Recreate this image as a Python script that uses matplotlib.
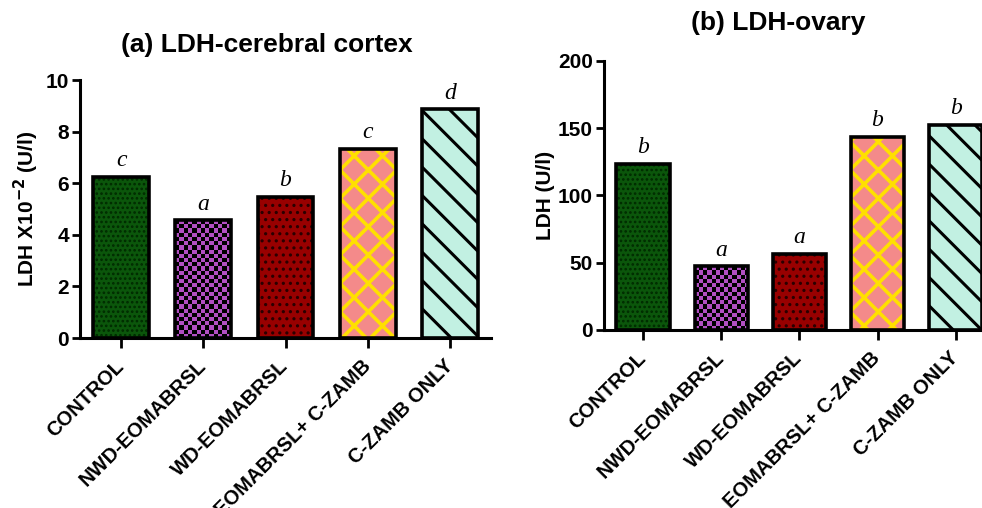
import numpy as np
import matplotlib
matplotlib.use("Agg")
import matplotlib.pyplot as plt

# ===============================
# Datos
# ===============================
groups = ["CONTROL", "NWD-EOMABRSL", "WD-EOMABRSL", "EOMABRSL+ C-ZAMB", "C-ZAMB ONLY"]
cortex = [6.25, 4.57, 5.47, 7.33, 8.87]
cortex_letters = ["c", "a", "b", "c", "d"]
ovary = [123.5, 47.5, 56.5, 143.5, 152.5]
ovary_letters = ["b", "a", "a", "b", "b"]

face_colors = ["#0b560b", "#b24fc2", "#980000", "#f48a8a", "#c2f0e2"]
hatch_colors = ["#002a00", "#000000", "#2a0000", "#ffe000", "#000000"]
hatches = ["...", None, "..", "x", "\\"]
hatch_widths = [1.2, 1.0, 1.3, 2.6, 2.2]

# dpi bajo para que los patrones salgan del tamaño del original
DPI = 85
k = 100 / DPI

plt.rcParams["font.family"] = ["Liberation Sans", "DejaVu Sans"]
plt.rcParams["font.weight"] = "bold"

fig = plt.figure(figsize=(982 / DPI, 508 / DPI), dpi=DPI)
ax1 = fig.add_axes([0.0815, 0.3346, 0.4185, 0.5079])
ax2 = fig.add_axes([0.615, 0.3504, 0.398, 0.5296])


def draw_panel(ax, values, letters, ymax, step, ylabel):
    x = np.arange(len(values))
    ax.set_xlim(-0.5, 4.5)
    ax.set_ylim(0, ymax)
    for i in range(len(values)):
        with plt.rc_context({"hatch.linewidth": hatch_widths[i] * k}):
            base = ax.bar(x[i], values[i], width=0.68, color=face_colors[i],
                          edgecolor=hatch_colors[i], linewidth=0,
                          hatch=hatches[i], zorder=2)[0]
        if hasattr(base, "set_hatch_linewidth"):
            base.set_hatch_linewidth(hatch_widths[i] * k)
        if hatches[i] is None:
            # damero para NWD
            fig.canvas.draw()
            x0, y0, x1, y1 = base.get_bbox().extents
            p0 = ax.transData.transform((x0, y0))
            p1 = ax.transData.transform((x1, y1))
            nx = max(int(round((p1[0] - p0[0]) / 4.2)), 1)
            ny = max(int(round((p1[1] - p0[1]) / 4.2)), 1)
            board = np.indices((ny, nx)).sum(axis=0) % 2
            img = ax.imshow(board, cmap=matplotlib.colors.ListedColormap([face_colors[i], "black"]),
                            extent=(x0, x1, y0, y1), origin="lower",
                            interpolation="nearest", aspect="auto", zorder=2.5)
            img.set_clip_path(base)
        ax.bar(x[i], values[i], width=0.68, facecolor="none",
               edgecolor="black", linewidth=2.6 * k, zorder=3)
        ax.annotate(letters[i], (x[i], values[i]), xytext=(0, 4 * k),
                    textcoords="offset points", ha="center", va="bottom",
                    fontsize=17 * k, style="italic", fontweight="normal",
                    family=["Liberation Serif", "DejaVu Serif"])
    ax.set_aspect("auto")
    ax.set_xlim(-0.5, 4.5)
    ax.set_ylim(0, ymax)
    ax.set_yticks(np.arange(0, ymax + step / 2, step))
    ax.set_xticks(x)
    ax.set_xticklabels(groups, rotation=45, ha="right", va="center",
                       rotation_mode="anchor", fontsize=14.5 * k, fontweight="bold")
    ax.tick_params(axis="x", length=7 * k, width=2 * k, pad=11 * k)
    ax.tick_params(axis="y", length=6 * k, width=2 * k, labelsize=15 * k, pad=2 * k)
    for lab in ax.get_yticklabels():
        lab.set_fontweight("bold")
    for side in ["top", "right"]:
        ax.spines[side].set_visible(False)
    for side in ["left", "bottom"]:
        ax.spines[side].set_linewidth(2.2 * k)
    ax.set_ylabel(ylabel, fontsize=15 * k, fontweight="bold")


draw_panel(ax1, cortex, cortex_letters, 10, 2, r"LDH X10$^{\mathbf{-2}}$ (U/l)")
draw_panel(ax2, ovary, ovary_letters, 200, 50, "LDH (U/l)")
ax1.yaxis.set_label_coords(-0.095, 0.5)
ax2.yaxis.set_label_coords(-0.125, 0.5)

fig.text(0.272, 0.911, "(a) LDH-cerebral cortex", ha="center", va="center",
         fontsize=19 * k, fontweight="bold")
fig.text(0.792, 0.955, "(b) LDH-ovary", ha="center", va="center",
         fontsize=19 * k, fontweight="bold")

fig.savefig("out.png", dpi=DPI)
